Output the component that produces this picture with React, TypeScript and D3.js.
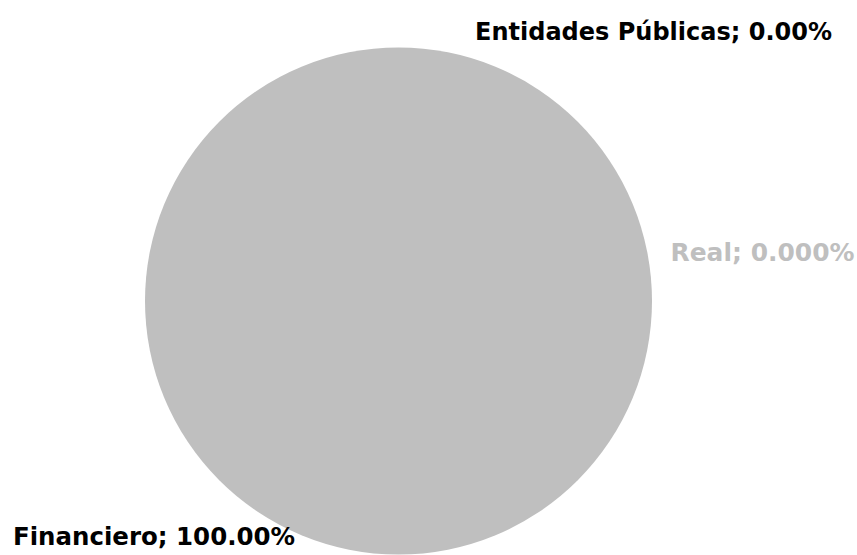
import React from "react";
import * as d3 from "d3";

const categories = ["Entidades Públicas", "Real", "Financiero"];
const values = [0, 0, 100];
const labelTexts = ["0.00%", "0.000%", "100.00%"];
const colors = ["#000000", "#BFBFBF", "#BFBFBF"];
const labelColors = ["#000000", "#BFBFBF", "#000000"];

const W = 857;
const H = 555;

export default function App() {
  const cx = 398.5;
  const cy = 301;
  const r = 253.5;
  const pie = d3.pie<number>().sort(null).value((d) => d);
  const arcs = pie(values);
  const arcGen = d3.arc<d3.PieArcDatum<number>>().innerRadius(0).outerRadius(r);

  // label placements relative to pie center
  const labelPos = [
    { x: cx + 76.5, y: cy - 261, w: 357 },
    { x: cx + 272, y: cy - 40, w: 184 },
    { x: cx - 385.5, y: cy + 244, w: 282 },
  ];

  return (
    <svg
      width={W}
      height={H}
      style={{ position: "absolute", left: 0, top: 0, background: "#fff" }}
    >
      <g transform={`translate(${cx},${cy})`}>
        {arcs.map((a, i) =>
          a.endAngle - a.startAngle > 0 ? (
            <path key={i} d={arcGen(a) || ""} fill={colors[i]} />
          ) : null
        )}
      </g>
      {categories.map((c, i) => (
        <text
          key={c}
          x={labelPos[i].x}
          y={labelPos[i].y}
          textLength={labelPos[i].w}
          lengthAdjust="spacingAndGlyphs"
          fontFamily="DejaVu Sans, Verdana, sans-serif"
          fontWeight="bold"
          fontSize={25}
          fill={labelColors[i]}
        >
          {`${c}; ${labelTexts[i]}`}
        </text>
      ))}
    </svg>
  );
}
